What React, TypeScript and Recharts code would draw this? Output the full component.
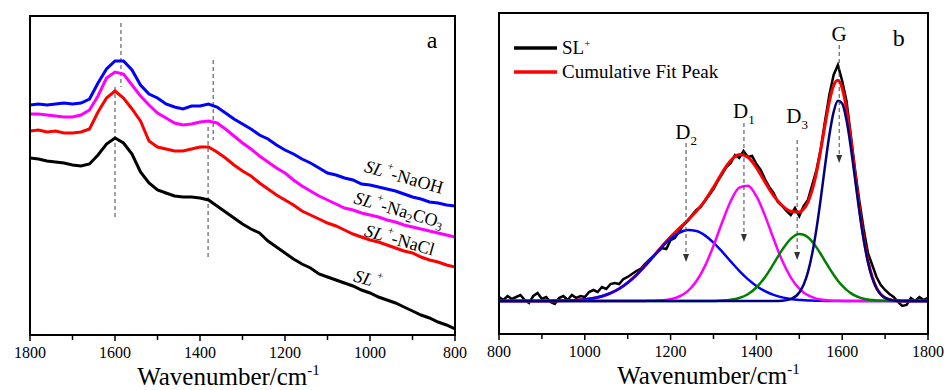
import React from "react";
import {
  LineChart,
  Line,
  XAxis,
  YAxis,
  ReferenceLine,
  ReferenceDot,
  Legend,
} from "recharts";

const SERIF = "'Liberation Serif', 'Times New Roman', Times, serif";

// ---- panel a: spectra of the four samples (arbitrary intensity units)
const wnA = [
  800, 820, 840, 860, 880, 900, 920, 940, 960, 980, 1000, 1020, 1040, 1060, 1080, 1100, 1120,
  1140, 1160, 1180, 1200, 1220, 1240, 1260, 1280, 1300, 1320, 1340, 1360, 1380, 1400, 1420,
  1440, 1460, 1480, 1500, 1520, 1540, 1560, 1580, 1600, 1620, 1640, 1660, 1680, 1700, 1720,
  1740, 1760, 1780, 1800,
];
const naohA = [
  129, 130, 132, 133, 136, 138, 141, 144, 146, 148, 150, 151, 155, 157, 160, 162, 167, 172, 176,
  181, 185, 190, 196, 200, 206, 211, 216, 222, 228, 231, 229, 229, 226, 228, 231, 237, 241, 250,
  265, 274, 274, 266, 252, 236, 232, 231, 232, 231, 230, 231, 230,
];
const na2co3A = [
  98, 100, 102, 104, 106, 108, 110, 113, 115, 118, 120, 122, 125, 127, 131, 135, 139, 144, 149,
  155, 162, 167, 173, 179, 186, 192, 199, 206, 212, 214, 213, 211, 210, 212, 217, 222, 230, 239,
  250, 261, 263, 257, 239, 225, 220, 218, 218, 219, 220, 221, 221,
];
const naclA = [
  68, 70, 73, 75, 78, 82, 84, 87, 90, 93, 95, 98, 101, 105, 109, 112, 116, 120, 124, 130, 135,
  140, 146, 152, 159, 164, 170, 177, 183, 188, 188, 186, 184, 184, 186, 188, 194, 214, 226, 237,
  244, 237, 223, 206, 203, 202, 202, 204, 203, 205, 204,
];
const slA = [
  6, 10, 13, 17, 20, 24, 28, 32, 35, 38, 42, 45, 49, 52, 55, 58, 61, 67, 71, 76, 82, 88, 94, 102,
  106, 111, 117, 123, 129, 135, 137, 138, 138, 139, 142, 145, 152, 163, 181, 192, 197, 191, 180,
  171, 169, 170, 172, 173, 174, 176, 177,
];

// ---- panel b: measured SL+ spectrum
const wnRaw = [
  800, 810, 820, 830, 840, 850, 860, 870, 880, 890, 900, 910, 920, 930, 940, 950, 960, 970, 980,
  990, 1000, 1010, 1020, 1030, 1040, 1050, 1060, 1070, 1080, 1090, 1100, 1110, 1120, 1130, 1140,
  1150, 1160, 1170, 1180, 1190, 1200, 1210, 1220, 1230, 1240, 1250, 1260, 1270, 1280, 1290,
  1300, 1310, 1320, 1330, 1340, 1350, 1360, 1370, 1380, 1390, 1400, 1410, 1420, 1430, 1440,
  1450, 1460, 1470, 1480, 1490, 1500, 1510, 1520, 1530, 1540, 1550, 1560, 1570, 1580, 1590,
  1600, 1610, 1620, 1630, 1640, 1650, 1660, 1670, 1680, 1690, 1700, 1710, 1720, 1730, 1740,
  1750, 1760, 1770, 1780, 1790, 1800,
];
const slRaw = [
  4, 1, 5, 2, 4, 6, 1, -2, 5, 8, 2, 4, -1, -3, 3, 5, 1, 6, 3, 5, 4, 9, 11, 9, 14, 12, 17, 18, 17,
  22, 24, 27, 30, 32, 37, 41, 45, 49, 53, 52, 61, 63, 70, 76, 80, 86, 91, 94, 100, 106, 112, 120,
  127, 134, 138, 146, 143, 150, 144, 145, 137, 131, 122, 114, 108, 99, 95, 90, 86, 93, 85, 95,
  101, 116, 131, 152, 180, 206, 226, 236, 220, 200, 166, 131, 100, 72, 48, 36, 24, 16, 11, 7, 4,
  -1, -5, -4, 3, 0, 4, 1, 3,
];

// ---- panel b: fitted peaks and their sum
const wnFit = [
  800, 820, 840, 860, 880, 900, 920, 940, 960, 980, 1000, 1020, 1040, 1060, 1080, 1100, 1120,
  1140, 1160, 1180, 1200, 1220, 1240, 1260, 1280, 1300, 1320, 1340, 1360, 1380, 1400, 1420,
  1440, 1460, 1480, 1500, 1510, 1520, 1530, 1540, 1550, 1560, 1570, 1580, 1590, 1600, 1610,
  1620, 1630, 1640, 1650, 1660, 1670, 1680, 1690, 1700, 1720, 1740, 1760, 1780, 1800,
];
const peakD2 = [
  0, 0, 0, 0, 0, 0, 0.1, 0.2, 0.4, 0.8, 1.5, 2.7, 4.7, 7.8, 12.2, 18.3, 25.9, 34.8, 44.5, 54.1,
  62.3, 68.2, 70.9, 70.0, 65.6, 58.4, 49.4, 39.6, 30.2, 21.9, 15.1, 9.8, 6.1, 3.6, 2.0, 1.1, 0.8,
  0.5, 0.4, 0.3, 0.2, 0.1, 0.1, 0, 0, 0, 0, 0, 0, 0, 0, 0, 0, 0, 0, 0, 0, 0, 0, 0, 0,
];
const peakD1 = [
  0, 0, 0, 0, 0, 0, 0, 0, 0, 0, 0, 0, 0, 0, 0, 0, 0, 0.1, 0.2, 0.7, 1.8, 4.5, 9.9, 19.7, 34.9,
  55.3, 78.5, 99.7, 113.3, 115.2, 104.8, 85.4, 62.2, 40.5, 23.7, 12.3, 8.6, 5.8, 3.8, 2.4, 1.5,
  0.9, 0.5, 0.3, 0.2, 0.1, 0.1, 0, 0, 0, 0, 0, 0, 0, 0, 0, 0, 0, 0, 0, 0,
];
const peakD3 = [
  0, 0, 0, 0, 0, 0, 0, 0, 0, 0, 0, 0, 0, 0, 0, 0, 0, 0, 0, 0, 0, 0, 0, 0, 0, 0.1, 0.4, 1.2, 3.0,
  6.8, 13.5, 23.8, 37.1, 51.1, 62.2, 67.0, 66.3, 63.7, 59.4, 53.6, 47.0, 39.9, 32.9, 26.3, 20.3,
  15.3, 11.1, 7.9, 5.4, 3.6, 2.3, 1.4, 0.9, 0.5, 0.3, 0.2, 0, 0, 0, 0, 0,
];
const peakG = [
  0, 0, 0, 0, 0, 0, 0, 0, 0, 0, 0, 0, 0, 0, 0, 0, 0, 0, 0, 0, 0, 0, 0, 0, 0, 0, 0, 0, 0, 0, 0, 0,
  0, 0.3, 1.9, 8.5, 16.2, 28.7, 47.2, 72.1, 102.3, 135.1, 165.7, 189.0, 200.3, 197.4, 180.9,
  154.0, 121.9, 89.7, 61.4, 39.0, 23.1, 12.7, 6.5, 3.1, 0.6, 0.1, 0, 0, 0,
];
const fitSum = [
  0, 0, 0, 0, 0, 0, 0.1, 0.2, 0.4, 0.8, 1.5, 2.7, 4.7, 7.8, 12.2, 18.3, 25.9, 34.9, 44.7, 54.8,
  64.1, 72.7, 80.8, 89.7, 100.5, 113.8, 128.3, 140.5, 146.5, 143.9, 133.4, 119.0, 105.4, 95.5,
  89.8, 88.9, 91.9, 98.7, 110.8, 128.4, 151.0, 176.0, 199.2, 215.6, 220.8, 212.8, 192.1, 161.9,
  127.3, 93.3, 63.7, 40.4, 24.0, 13.2, 6.8, 3.3, 0.6, 0.1, 0, 0, 0,
];

const xTicks = [800, 900, 1000, 1100, 1200, 1300, 1400, 1500, 1600, 1700, 1800];
const legendOrder = ["SL+", "Cumulative Fit Peak"];

const dataA = wnA.map((wn, i) => ({
  wn,
  sl: slA[i],
  nacl: naclA[i],
  na2co3: na2co3A[i],
  naoh: naohA[i],
}));
const dataRaw = wnRaw.map((wn, i) => ({ wn, sl: slRaw[i] }));
const dataFit = wnFit.map((wn, i) => ({
  wn,
  sum: fitSum[i],
  d2: peakD2[i],
  d1: peakD1[i],
  d3: peakD3[i],
  g: peakG[i],
}));

const AxisTick = (props: any) => {
  const { x, y, payload } = props;
  const major = payload.value % 200 === 0;
  return (
    <g>
      <line x1={x} x2={x} y1={y} y2={y + (major ? 6 : 5)} stroke="#000" strokeWidth={1.5} />
      {major && (
        <text x={x} y={y + 23} textAnchor="middle" fontFamily={SERIF} fontSize={16} fill="#000">
          {payload.value}
        </text>
      )}
    </g>
  );
};

const AxisTitle = (props: any) => {
  const vb = props.viewBox || { x: 0, y: 0, width: 0 };
  const cx = vb.x + vb.width / 2 + (props.dx || 0);
  return (
    <text x={cx} y={vb.y + 50} textAnchor="middle" fontFamily={SERIF} fontSize={25} fill="#000">
      Wavenumber/cm
      <tspan dy={-10} fontSize={15}>
        -1
      </tspan>
    </text>
  );
};

const PanelLetter = (p: any, letter: string) => (
  <text x={p.cx} y={p.cy} textAnchor="middle" dominantBaseline="central" fontFamily={SERIF} fontSize={24}>
    {letter}
  </text>
);

const curveLabel = (p: any, content?: React.ReactNode) => (
  <text
    x={p.cx}
    y={p.cy}
    textAnchor="middle"
    dominantBaseline="central"
    transform={`rotate(16 ${p.cx} ${p.cy})`}
    fontFamily={SERIF}
    fontSize={18}
    fill="#000"
  >
    <tspan fontStyle="italic">SL</tspan>
    <tspan dy={-7} fontSize={11}>
      {" +"}
    </tspan>
    {content && <tspan dy={7}>{content}</tspan>}
  </text>
);

const peakLabel = (p: any, main: string, sub?: string) => (
  <text x={p.cx} y={p.cy} textAnchor="middle" dominantBaseline="central" fontFamily={SERIF} fontSize={21} fill="#000">
    {main}
    {sub && (
      <tspan dy={8} fontSize={13}>
        {sub}
      </tspan>
    )}
  </text>
);

const arrowHead = (p: any) => (
  <path d={`M${p.cx - 3},${p.cy - 8} L${p.cx + 3},${p.cy - 8} L${p.cx},${p.cy} Z`} fill="#333" />
);

const renderLegend = (props: any) => {
  const items = (props.payload || [])
    .filter((e: any) => legendOrder.includes(e.value))
    .sort((a: any, b: any) => legendOrder.indexOf(a.value) - legendOrder.indexOf(b.value));
  return (
    <div style={{ fontFamily: SERIF, fontSize: 19, color: "#000" }}>
      {items.map((e: any) => (
        <div key={e.value} style={{ display: "flex", alignItems: "center", height: 24 }}>
          <svg width={48} height={8} style={{ display: "block" }}>
            <line x1={0} x2={43} y1={4} y2={4} stroke={e.color} strokeWidth={3.5} />
          </svg>
          <span>
            {e.value === "SL+" ? (
              <>
                SL<sup style={{ fontSize: 11 }}>+</sup>
              </>
            ) : (
              e.value
            )}
          </span>
        </div>
      ))}
    </div>
  );
};

const dashed = { stroke: "#444", strokeWidth: 1, strokeDasharray: "4 3" };

// dashed guide lines in panel a: [wavenumber, from, to]
const guidesA = [
  [1586, 312, 248],
  [1600, 248, 115],
  [1369, 275, 195],
  [1381, 208, 75],
];

// peak arrows in panel b: wavenumber, line top, arrow tip, label height
const peakArrows = [
  { wn: 1236, top: 158, tip: 39, label: 169, main: "D", sub: "2" },
  { wn: 1371, top: 178, tip: 59, label: 190, main: "D", sub: "1" },
  { wn: 1495, top: 161, tip: 41, label: 185, main: "D", sub: "3" },
  { wn: 1593, top: 256, tip: 138, label: 267, main: "G", sub: undefined },
];

// black box drawn over the plot area of each panel
const frameStyle = (left: number, top: number, width: number, height: number): React.CSSProperties => ({
  position: "absolute",
  left,
  top,
  width,
  height,
  border: "2px solid #000",
  boxSizing: "border-box",
  pointerEvents: "none",
});

export default function App() {
  return (
    <div style={{ position: "absolute", left: 0, top: 0, width: 946, height: 390, background: "#fff" }}>
      <div style={{ position: "absolute", left: 0, top: 0, width: 470, height: 390 }}>
        <LineChart width={470} height={390} data={dataA} margin={{ top: 16, right: 15, bottom: 0, left: 30 }}>
          <XAxis
            dataKey="wn"
            type="number"
            domain={[800, 1800]}
            reversed
            allowDataOverflow
            ticks={xTicks}
            interval={0}
            tickSize={0}
            tickMargin={0}
            tickLine={false}
            axisLine={false}
            height={55}
            tick={<AxisTick />}
            label={{ content: <AxisTitle dx={-14} /> }}
          />
          <YAxis hide type="number" domain={[0, 319]} allowDataOverflow />
          {guidesA.map(([wn, a, b], i) => (
            <ReferenceLine
              key={i}
              segment={[
                { x: wn, y: a },
                { x: wn, y: b },
              ]}
              {...dashed}
              ifOverflow="visible"
            />
          ))}
          <Line type="linear" dataKey="sl" stroke="#000000" strokeWidth={3} dot={false} activeDot={false} isAnimationActive={false} />
          <Line type="linear" dataKey="nacl" stroke="#ff0000" strokeWidth={3} dot={false} activeDot={false} isAnimationActive={false} />
          <Line type="linear" dataKey="na2co3" stroke="#ff00ff" strokeWidth={3} dot={false} activeDot={false} isAnimationActive={false} />
          <Line type="linear" dataKey="naoh" stroke="#0000ff" strokeWidth={3} dot={false} activeDot={false} isAnimationActive={false} />
          <ReferenceDot x={920} y={158} r={0} ifOverflow="visible" shape={(p: any) => curveLabel(p, "-NaOH")} />
          <ReferenceDot
            x={932}
            y={125}
            r={0}
            ifOverflow="visible"
            shape={(p: any) =>
              curveLabel(
                p,
                <>
                  -Na<tspan dy={5} fontSize={12}>2</tspan>
                  <tspan dy={-5}>CO</tspan>
                  <tspan dy={5} fontSize={12}>3</tspan>
                </>
              )
            }
          />
          <ReferenceDot x={930} y={95} r={0} ifOverflow="visible" shape={(p: any) => curveLabel(p, "-NaCl")} />
          <ReferenceDot x={1005} y={56} r={0} ifOverflow="visible" shape={(p: any) => curveLabel(p)} />
          <ReferenceDot x={854} y={295} r={0} ifOverflow="visible" shape={(p: any) => PanelLetter(p, "a")} />
        </LineChart>
        <div style={frameStyle(29, 15, 427, 321)} />
      </div>

      <div style={{ position: "absolute", left: 470, top: 0, width: 476, height: 390 }}>
        <LineChart width={476} height={390} data={dataFit} margin={{ top: 13, right: 18, bottom: 0, left: 29 }}>
          <XAxis
            dataKey="wn"
            type="number"
            domain={[800, 1800]}
            allowDataOverflow
            ticks={xTicks}
            interval={0}
            tickSize={0}
            tickMargin={0}
            tickLine={false}
            axisLine={false}
            height={56}
            tick={<AxisTick />}
            label={{ content: <AxisTitle dx={-5} /> }}
          />
          <YAxis hide type="number" domain={[-33, 288]} allowDataOverflow />
          <Legend
            layout="vertical"
            align="center"
            verticalAlign="middle"
            wrapperStyle={{ left: 44, top: 36, width: "auto" }}
            content={renderLegend}
          />
          <Line data={dataRaw} name="SL+" type="linear" dataKey="sl" stroke="#000000" strokeWidth={2.5} dot={false} activeDot={false} isAnimationActive={false} />
          <Line name="Cumulative Fit Peak" type="monotone" dataKey="sum" stroke="#ff0000" strokeWidth={3} dot={false} activeDot={false} isAnimationActive={false} />
          <Line legendType="none" type="monotone" dataKey="d2" stroke="#0000ff" strokeWidth={2.5} dot={false} activeDot={false} isAnimationActive={false} />
          <Line legendType="none" type="monotone" dataKey="d1" stroke="#ff00ff" strokeWidth={2.5} dot={false} activeDot={false} isAnimationActive={false} />
          <Line legendType="none" type="monotone" dataKey="d3" stroke="#008000" strokeWidth={2.5} dot={false} activeDot={false} isAnimationActive={false} />
          <Line legendType="none" type="monotone" dataKey="g" stroke="#000080" strokeWidth={2.5} dot={false} activeDot={false} isAnimationActive={false} />
          {peakArrows.map((a) => (
            <ReferenceLine
              key={`l${a.wn}`}
              segment={[
                { x: a.wn, y: a.top },
                { x: a.wn, y: a.tip + 6 },
              ]}
              {...dashed}
              ifOverflow="visible"
            />
          ))}
          {peakArrows.map((a) => (
            <ReferenceDot key={`h${a.wn}`} x={a.wn} y={a.tip} r={0} ifOverflow="visible" shape={arrowHead} />
          ))}
          {peakArrows.map((a) => (
            <ReferenceDot
              key={`t${a.wn}`}
              x={a.wn}
              y={a.label}
              r={0}
              ifOverflow="visible"
              shape={(p: any) => peakLabel(p, a.main, a.sub)}
            />
          ))}
          <ReferenceDot x={1732} y={263} r={0} ifOverflow="visible" shape={(p: any) => PanelLetter(p, "b")} />
        </LineChart>
        <div style={frameStyle(28, 12, 431, 323)} />
      </div>
    </div>
  );
}
